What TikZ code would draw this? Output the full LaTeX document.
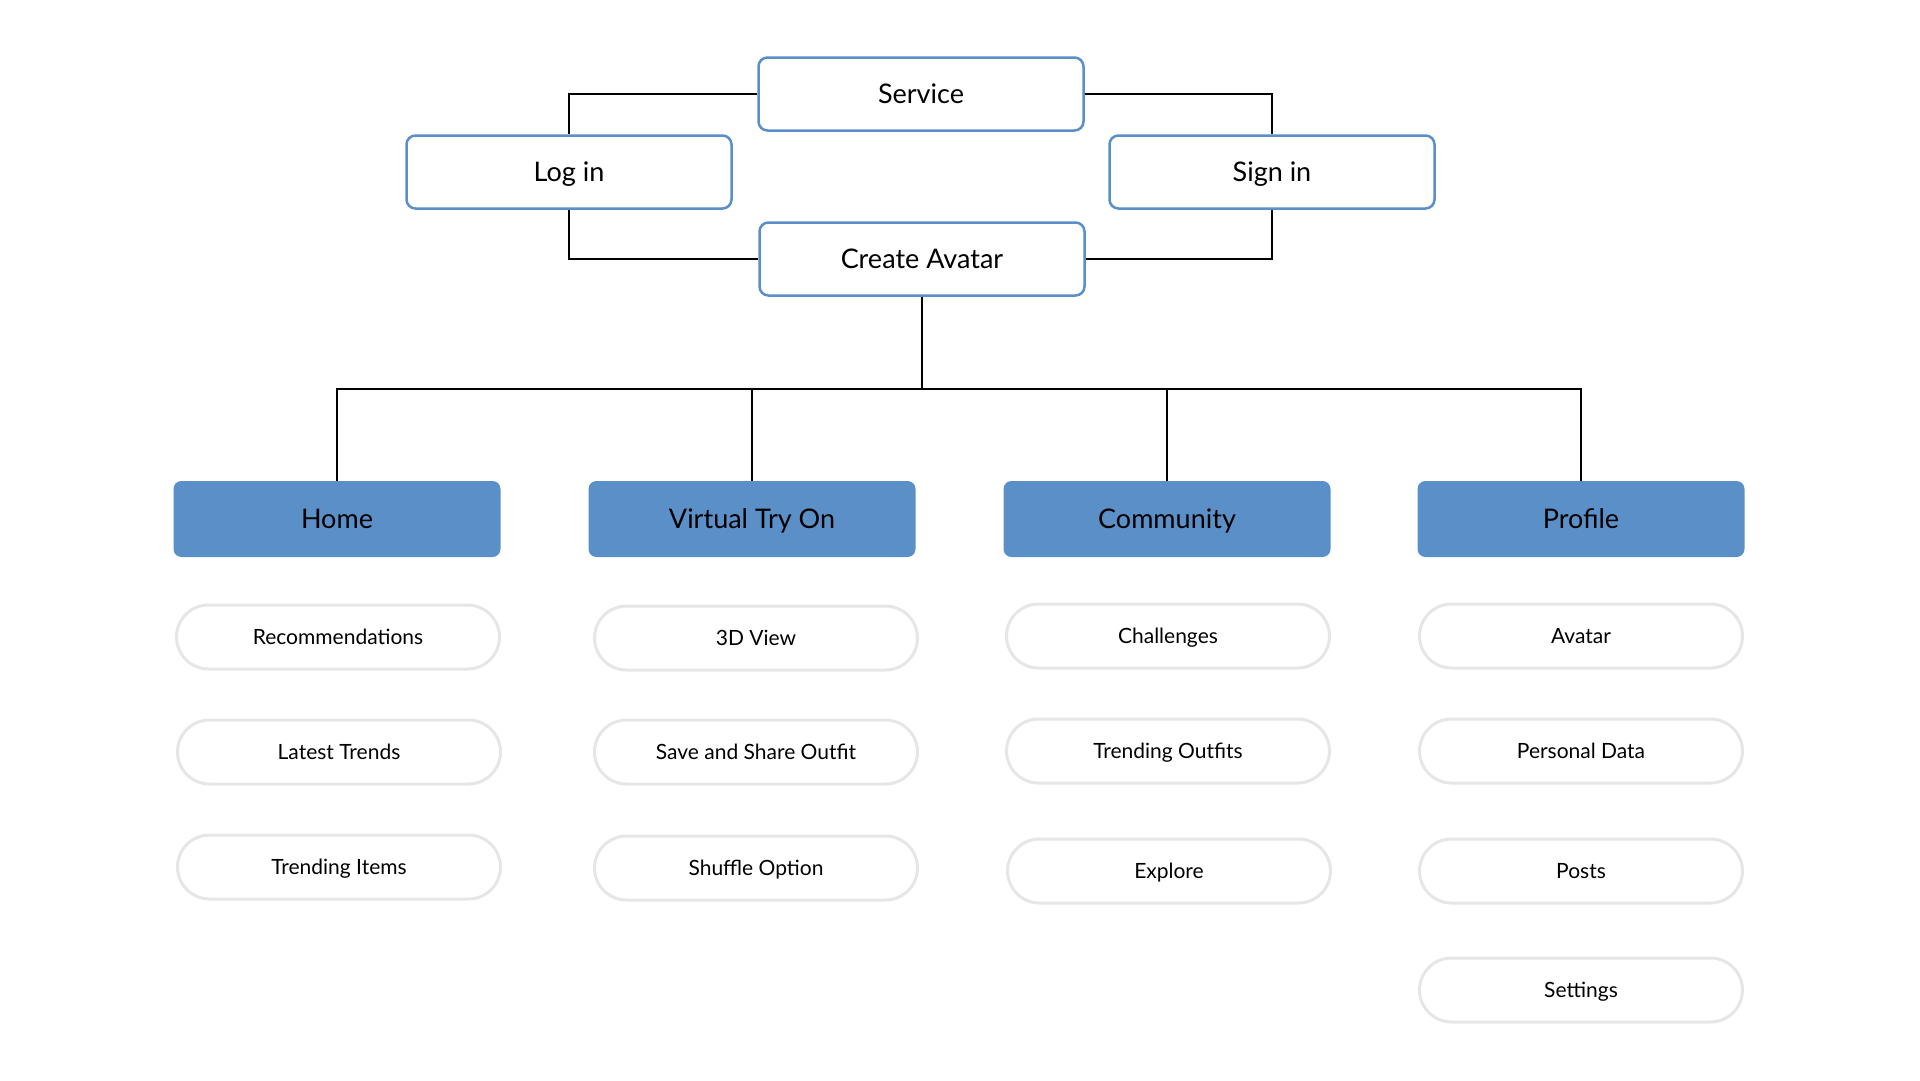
\documentclass[tikz,border=0pt]{standalone}
\usepackage{fontspec}
\setmainfont{Lato}
\definecolor{boxblue}{HTML}{5B8FC7}
\definecolor{pillgrey}{HTML}{E6E6E6}

\begin{document}
\begin{tikzpicture}[x=1pt, y=-1pt]
\tikzstyle{topbox}=[draw=boxblue, line width=2.5pt, rounded corners=9pt, fill=white, minimum width=325pt, minimum height=73pt, inner sep=0pt, text height=25pt, text depth=6pt, font=\fontsize{27}{30}\selectfont]
\tikzstyle{catbox}=[fill=boxblue, rounded corners=8pt, minimum width=327pt, minimum height=76pt, inner sep=0pt, text height=25pt, text depth=6pt, font=\fontsize{27}{30}\selectfont]
\tikzstyle{pill}=[draw=pillgrey, line width=3pt, rounded corners=32pt, fill=white, minimum width=323pt, minimum height=64pt, inner sep=0pt, text height=20pt, text depth=5pt, font=\fontsize{21}{24}\selectfont]
\tikzstyle{link}=[line width=2pt, black]
\useasboundingbox (0,0) rectangle (1920,1080);
% top part
\node[topbox] (service) at (921,94) {Service};
\node[topbox] (login) at (569,172) {Log in};
\node[topbox] (signin) at (1272,172) {Sign in};
\node[topbox] (create) at (922,259) {Create Avatar};
\draw[link] (service.west) -| (login.north);
\draw[link] (service.east) -| (signin.north);
\draw[link] (login.south) |- (create.west);
\draw[link] (signin.south) |- (create.east);
% categories
\node[catbox] (home) at (337,519) {Home};
\node[catbox] (tryon) at (752,519) {Virtual Try On};
\node[catbox] (community) at (1167,519) {Community};
\node[catbox] (profile) at (1581,519) {Profile};
\coordinate (bus) at (922,389);
\draw[link] (create.south) -- (bus);
\foreach \c in {home,tryon,community,profile}
  \draw[link] (bus) -| (\c.north);
% items
\foreach \n/\x/\y/\t in {
  rec/338/637/Recommendations, latest/339/752/Latest Trends, items/339/867/Trending Items,
  view/756/638/3D View, share/756/752/Save and Share Outfit, shuffle/756/868/Shuffle Option,
  challenges/1168/636/Challenges, outfits/1168/751/Trending Outfits, explore/1169/871/Explore,
  avatar/1581/636/Avatar, personal/1581/751/Personal Data, posts/1581/871/Posts, settings/1581/990/Settings}
  \node[pill] (\n) at (\x,\y) {\t};
\end{tikzpicture}
\end{document}
